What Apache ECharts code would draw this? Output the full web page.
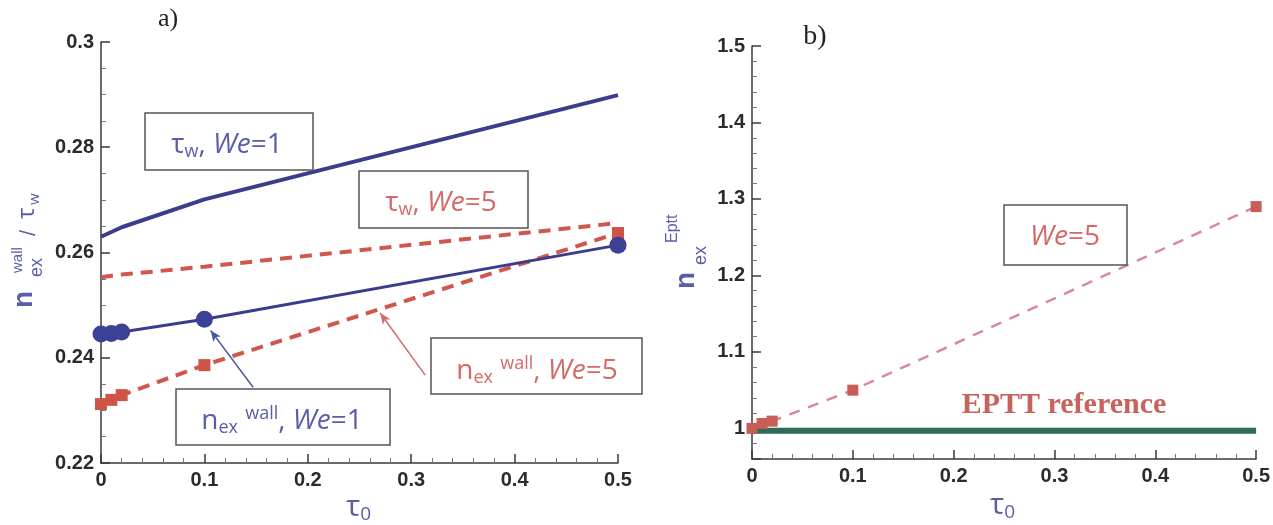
<!DOCTYPE html>
<html><head><meta charset="utf-8">
<script src="https://cdn.jsdelivr.net/npm/echarts@6/dist/echarts.min.js"></script>
<style>html,body{margin:0;padding:0;background:#fff}#c{width:1273px;height:525px}</style>
</head><body><div id="c"></div>
<script>
// ---- data ----
const tau0 = [0, 0.01, 0.02, 0.1, 0.5];
const tauW_We1 = [0.2630, 0.2639, 0.2648, 0.2701, 0.2899];
const tauW_We5 = [0.2553, 0.2556, 0.2558, 0.2573, 0.2656];
const nexWall_We1 = [0.2445, 0.2446, 0.2449, 0.2473, 0.2614];
const nexWall_We5 = [0.2312, 0.2320, 0.2329, 0.2386, 0.2637];
const nexEptt_We5 = [1.000, 1.0065, 1.0095, 1.050, 1.290];
const epttRefX = [0, 0.5];
const epttRefY = [0.997, 0.997];

const pairs = (xs, ys) => xs.map((x, i) => [x, ys[i]]);

const BLUE_T = '#5a5da8';
const RED_T = '#d46a68';
const SANS = '"Open Sans", "Noto Sans", sans-serif';
const AX = '#3a3a3a';

function axis(gridIndex, min, max, interval, minorSplit, extra) {
  const o = {
    type: 'value', gridIndex, min, max,
    axisLine: { show: true, onZero: false, lineStyle: { color: AX, width: 1.5 } },
    axisTick: { show: true, inside: true, length: 9, lineStyle: { color: AX, width: 1.5 } },
    minorTick: { show: true, splitNumber: minorSplit, length: 5, lineStyle: { color: '#777', width: 1 } },
    splitLine: { show: false },
    axisLabel: { color: '#2b2b2b', fontSize: 20, fontWeight: 'bold', fontFamily: '"Liberation Sans", Arial, sans-serif', margin: 7 }
  };
  if (interval != null) o.interval = interval;
  return Object.assign(o, extra || {});
}

const richBase = (color) => ({
  m: { fontSize: 28, fontFamily: SANS, fill: color, lineHeight: 32 },
  i: { fontSize: 28, fontFamily: SANS, fontStyle: 'italic', fill: color, lineHeight: 32 },
  s: { fontSize: 18, fontFamily: SANS, fill: color, lineHeight: 14, verticalAlign: 'bottom' },
  p: { fontSize: 18, fontFamily: SANS, fill: color, lineHeight: 24, verticalAlign: 'top' }
});

function box(x, y, w, h) {
  return { type: 'rect', shape: { x, y, width: w, height: h }, style: { fill: 'none', stroke: '#555', lineWidth: 1.5 }, z: 10 };
}
function label(x, y, text, color) {
  return { type: 'text', x, y, z: 11, style: { text, rich: richBase(color), align: 'center', verticalAlign: 'middle' } };
}
function rtext(x, y, text, font, color) {
  return { type: 'text', x, y, rotation: Math.PI / 2, z: 11, style: { text, font, fill: color, align: 'left', verticalAlign: 'middle' } };
}
const xTitleRich = {
  t: { fontSize: 30, fontFamily: SANS, fill: BLUE_T, lineHeight: 34 },
  s: { fontSize: 19, fontFamily: SANS, fill: BLUE_T, lineHeight: 16, verticalAlign: 'bottom' }
};

const chart = echarts.init(document.getElementById('c'));
chart.setOption({
  animation: false,
  backgroundColor: '#fff',
  grid: [
    { left: 101, right: 655, top: 42, bottom: 62 },
    { left: 752, right: 16, top: 46, bottom: 66 }
  ],
  xAxis: [
    axis(0, 0, 0.5, 0.1, 5),
    axis(1, 0, 0.5, 0.1, 5)
  ],
  yAxis: [
    axis(0, 0.22, 0.3, 0.02, 4),
    axis(1, 0.96, 1.5, null, 5, { splitNumber: 5, axisLabel: { color: '#2b2b2b', fontSize: 20, fontWeight: 'bold', fontFamily: '"Liberation Sans", Arial, sans-serif', margin: 7, showMinLabel: false } })
  ],
  series: [
    { type: 'line', xAxisIndex: 0, yAxisIndex: 0, data: pairs(tau0, tauW_We1), symbol: 'none',
      lineStyle: { color: '#3b3d8c', width: 4 } },
    { type: 'line', xAxisIndex: 0, yAxisIndex: 0, data: pairs(tau0, tauW_We5), symbol: 'none',
      lineStyle: { color: '#d0574e', width: 4, type: [12, 8] } },
    { type: 'line', xAxisIndex: 0, yAxisIndex: 0, data: pairs(tau0, nexWall_We5), symbol: 'rect', symbolSize: 12,
      itemStyle: { color: '#cf5448' }, lineStyle: { color: '#d0574e', width: 4, type: [12, 8] },
      markLine: { silent: true, symbol: ['none', 'arrow'], symbolSize: [7, 11], label: { show: false },
        lineStyle: { color: '#c97070', width: 1.5, type: 'solid' },
        data: [[{ coord: [0.3135, 0.2367] }, { coord: [0.270, 0.2485] }]] } },
    { type: 'line', xAxisIndex: 0, yAxisIndex: 0, data: pairs(tau0, nexWall_We1), symbol: 'circle', symbolSize: 17,
      itemStyle: { color: '#3d4196' }, lineStyle: { color: '#3b3d8c', width: 3 },
      markLine: { silent: true, symbol: ['none', 'arrow'], symbolSize: [7, 11], label: { show: false },
        lineStyle: { color: '#4a55a0', width: 1.5, type: 'solid' },
        data: [[{ coord: [0.1471, 0.2344] }, { coord: [0.1060, 0.2452] }]] } },
    { type: 'line', xAxisIndex: 1, yAxisIndex: 1, data: pairs(epttRefX, epttRefY), symbol: 'none',
      lineStyle: { color: '#2f6b57', width: 6 } },
    { type: 'line', xAxisIndex: 1, yAxisIndex: 1, data: pairs(tau0, nexEptt_We5), symbol: 'rect', symbolSize: 11,
      itemStyle: { color: '#c65d57' }, lineStyle: { color: '#d98a9a', width: 2.5, type: [11, 9] } }
  ],
  graphic: [
    // panel tags
    { type: 'text', x: 168, y: 19, style: { text: 'a)', font: '26px "Liberation Serif", serif', fill: '#222', align: 'center', verticalAlign: 'middle' } },
    { type: 'text', x: 815, y: 37, style: { text: 'b)', font: '28px "Liberation Serif", serif', fill: '#222', align: 'center', verticalAlign: 'middle' } },
    // left boxes
    box(145, 113, 168, 57), label(227, 145, '{m|τ}{s|w}{m|, }{i|We}{m|=1}', BLUE_T),
    box(359, 171, 169, 57), label(441, 203, '{m|τ}{s|w}{m|, }{i|We}{m|=5}', RED_T),
    box(176, 389, 214, 56), label(282, 421, '{m|n}{s|ex}{m| }{p|wall}{m|, }{i|We}{m|=1}', BLUE_T),
    box(431, 338, 211, 56), label(537, 371, '{m|n}{s|ex}{m| }{p|wall}{m|, }{i|We}{m|=5}', RED_T),
    // right box + reference label
    box(1004, 205, 123, 60), label(1065, 237, '{i|We}{m|=5}', RED_T),
    { type: 'text', x: 1064, y: 405, z: 11, style: { text: 'EPTT reference', font: 'bold 30px "Liberation Serif", serif', fill: '#c8625c', align: 'center', verticalAlign: 'middle' } },
    // left y title (rotated)
    rtext(24, 308, 'n', 'bold 28px "Liberation Sans", Arial, sans-serif', BLUE_T),
    rtext(37, 277, 'ex', '18px "Liberation Sans", Arial, sans-serif', BLUE_T),
    rtext(18, 273, 'wall', '15px "Liberation Sans", Arial, sans-serif', BLUE_T),
    rtext(29, 236, '/', '22px "Liberation Sans", Arial, sans-serif', BLUE_T),
    rtext(27, 219, 'τ', '24px ' + SANS, BLUE_T),
    rtext(35, 205, 'w', '15px ' + SANS, BLUE_T),
    // right y title (rotated)
    rtext(686, 289, 'n', 'bold 28px "Liberation Sans", Arial, sans-serif', BLUE_T),
    rtext(701, 265, 'ex', '18px "Liberation Sans", Arial, sans-serif', BLUE_T),
    rtext(673, 243, 'Eptt', '16px "Liberation Sans", Arial, sans-serif', BLUE_T),
    // x titles
    { type: 'text', x: 346, y: 507, style: { text: '{t|τ}{s|0}', rich: xTitleRich, align: 'left', verticalAlign: 'middle' } },
    { type: 'text', x: 990, y: 505, style: { text: '{t|τ}{s|0}', rich: xTitleRich, align: 'left', verticalAlign: 'middle' } }
  ]
});
</script>
</body></html>
